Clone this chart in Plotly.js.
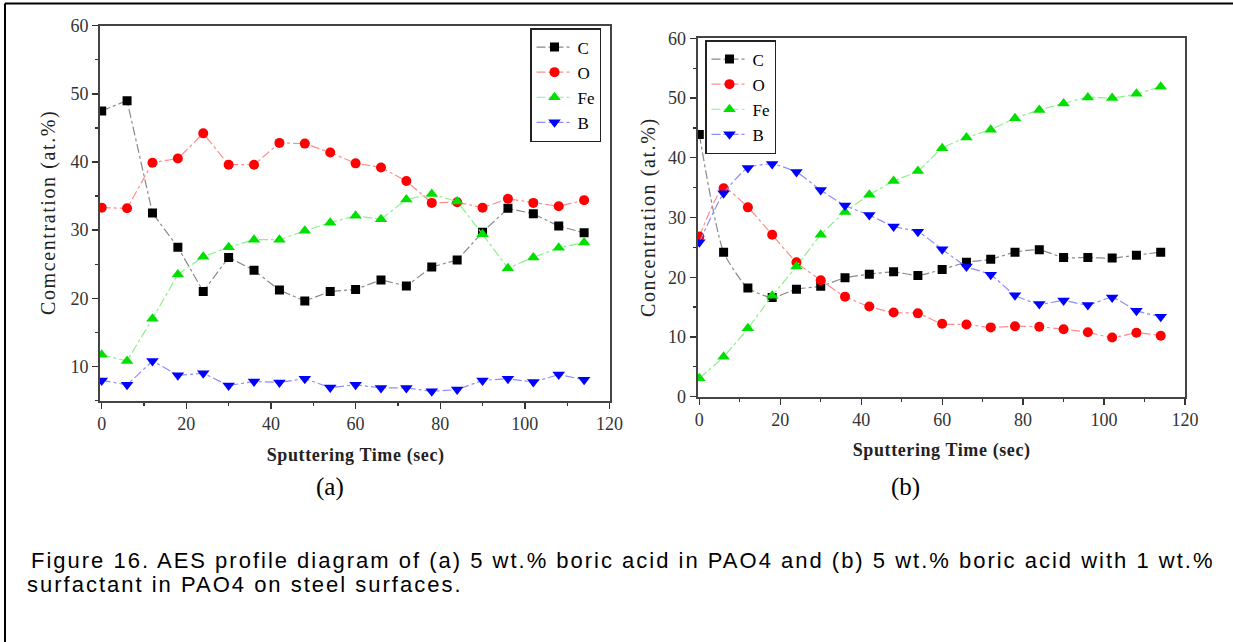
<!DOCTYPE html>
<html>
<head>
<meta charset="utf-8">
<script src="https://cdn.plot.ly/plotly-3.0.1.min.js"></script>
<style>
html,body{margin:0;padding:0;background:#fff;}
#chart{width:1233px;height:642px;}
g.annotation[data-index="0"] text, g.annotation[data-index="1"] text{letter-spacing:0.6px;}
g.annotation[data-index="2"] text, g.annotation[data-index="3"] text{letter-spacing:1.6px;}
g.annotation[data-index="6"] text, g.annotation[data-index="7"] text{letter-spacing:2px;}
</style>
</head>
<body>
<div id="chart"></div>
<script>
// Sputtering time (sec)
const timeA = [0,6,12,18,24,30,36,42,48,54,60,66,72,78,84,90,96,102,108,114];
const timeB = [0,6,12,18,24,30,36,42,48,54,60,66,72,78,84,90,96,102,108,114];

// (a) 5 wt.% boric acid in PAO4
const cA  = [47.5,49.0,32.5,27.5,21.0,26.0,24.1,21.2,19.6,21.0,21.3,22.7,21.8,24.6,25.6,29.7,33.2,32.4,30.6,29.6];
const oA  = [33.3,33.2,39.9,40.5,44.2,39.6,39.6,42.8,42.7,41.4,39.8,39.2,37.2,34.0,34.1,33.3,34.6,34.0,33.5,34.4];
const feA = [11.7,10.8,17.0,23.5,26.1,27.5,28.6,28.6,29.9,31.1,32.1,31.6,34.5,35.3,34.2,29.4,24.4,26.0,27.4,28.2];
const bA  = [7.95,7.3,10.8,8.7,9.0,7.2,7.8,7.65,8.2,6.9,7.3,6.85,6.85,6.35,6.6,7.95,8.2,7.7,8.8,8.05];

// (b) 5 wt.% boric acid with 1 wt.% surfactant in PAO4
const cB  = [43.9,24.2,18.2,16.6,18.0,18.5,19.9,20.5,20.9,20.3,21.3,22.5,23.0,24.2,24.6,23.3,23.3,23.2,23.7,24.2];
const oB  = [26.8,34.9,31.7,27.1,22.5,19.5,16.75,15.1,14.1,13.95,12.2,12.1,11.6,11.8,11.7,11.3,10.8,9.9,10.7,10.2];
const feB = [3.1,6.7,11.45,16.9,21.8,27.1,30.9,33.8,36.1,37.8,41.6,43.4,44.7,46.6,48.0,49.1,50.1,50.0,50.7,51.9];
const bB  = [25.85,34.05,38.3,38.95,37.6,34.6,32.0,30.4,28.5,27.6,24.7,21.8,20.4,17.0,15.5,16.1,15.35,16.6,14.4,13.4];

const seriesNames = ['C','O','Fe','B'];
const xTickVals = [0,20,40,60,80,100,120];
const yTickValsA = [10,20,30,40,50,60];
const yTickValsB = [0,10,20,30,40,50,60];

const serif = 'Liberation Serif, Times New Roman, serif';
const styles = [
  {mc:'#000000', lc:'#8a8a8a', sym:'square', size:9},
  {mc:'#ff0000', lc:'#ff8c8c', sym:'circle', size:10},
  {mc:'#00e000', lc:'#8cf08c', sym:'triangle-up', size:11},
  {mc:'#0000ff', lc:'#8c8cff', sym:'triangle-down', size:11}
];

function mk(x, y, i, xa, ya, leg, shape){
  const s = styles[i];
  return {
    x:x, y:y, name:seriesNames[i], type:'scatter', mode:'lines+markers',
    xaxis:xa, yaxis:ya, legend:leg,
    line:{color:s.lc, width:1.2, dash:'dashdot', shape:shape, smoothing:0.6},
    marker:{color:s.mc, symbol:s.sym, size:s.size, line:{width:0}}
  };
}

const data = [
  mk(timeA,cA,0,'x','y','legend','linear'),
  mk(timeA,oA,1,'x','y','legend','linear'),
  mk(timeA,feA,2,'x','y','legend','linear'),
  mk(timeA,bA,3,'x','y','legend','linear'),
  mk(timeB,cB,0,'x2','y2','legend2','spline'),
  mk(timeB,oB,1,'x2','y2','legend2','spline'),
  mk(timeB,feB,2,'x2','y2','legend2','spline'),
  mk(timeB,bB,3,'x2','y2','legend2','spline')
];

const W = 1233, H = 642;
function axisX(domain){
  return {
    domain:domain, range:[-0.4,120], tickvals:xTickVals, ticks:'outside', ticklen:6, tickwidth:1.3,
    tickcolor:'#333', showline:true, linecolor:'#444', linewidth:2, mirror:true, showgrid:false,
    zeroline:false, tickfont:{family:serif, size:18, color:'#333'},
    minor:{ticks:'outside', dtick:10, tick0:0, ticklen:3, tickcolor:'#333', showgrid:false}
  };
}
function axisY(domain, range, vals, anchor){
  return {
    domain:domain, range:range, tickvals:vals, ticks:'outside', ticklen:6, tickwidth:1.3,
    tickcolor:'#333', showline:true, linecolor:'#444', linewidth:2, mirror:true, showgrid:false,
    zeroline:false, anchor:anchor, tickfont:{family:serif, size:18, color:'#333'},
    minor:{ticks:'outside', dtick:5, tick0:0, ticklen:3, tickcolor:'#333', showgrid:false}
  };
}

const legFont = {family:serif, size:17, color:'#000'};
const capFont = {family:'Liberation Sans, Arial, sans-serif', size:22, color:'#000'};
const layout = {
  width:W, height:H, margin:{l:0,r:0,t:0,b:0},
  paper_bgcolor:'#fff', plot_bgcolor:'#fff', showlegend:true,
  xaxis: Object.assign(axisX([100/W, 609.5/W]), {anchor:'y'}),
  yaxis: axisY([1-400.5/H, 1-25.7/H], [5,60], yTickValsA, 'x'),
  xaxis2: Object.assign(axisX([697.7/W, 1185/W]), {anchor:'y2'}),
  yaxis2: axisY([1-396.7/H, 1-38.3/H], [0,60], yTickValsB, 'x2'),
  legend:{x:530/W, y:1-28/H, xanchor:'left', yanchor:'top', bgcolor:'#fff',
    bordercolor:'#222', borderwidth:1.5, font:legFont, tracegroupgap:0, itemwidth:36},
  legend2:{x:705/W, y:1-40/H, xanchor:'left', yanchor:'top', bgcolor:'#fff',
    bordercolor:'#222', borderwidth:1.5, font:legFont, tracegroupgap:0, itemwidth:36},
  annotations:[
    {xref:'paper', yref:'paper', x:355/W, y:1-455/H, text:'<b>Sputtering Time (sec)</b>', showarrow:false,
     font:{family:serif, size:18, color:'#222'}, xanchor:'center', yanchor:'middle'},
    {xref:'paper', yref:'paper', x:941/W, y:1-450/H, text:'<b>Sputtering Time (sec)</b>', showarrow:false,
     font:{family:serif, size:18, color:'#222'}, xanchor:'center', yanchor:'middle'},
    {xref:'paper', yref:'paper', x:48/W, y:1-213/H, text:'Comcentration (at.%)', textangle:-90, showarrow:false,
     font:{family:serif, size:20, color:'#222'}, xanchor:'center', yanchor:'middle'},
    {xref:'paper', yref:'paper', x:648/W, y:1-217/H, text:'Concentration (at.%)', textangle:-90, showarrow:false,
     font:{family:serif, size:20, color:'#222'}, xanchor:'center', yanchor:'middle'},
    {xref:'paper', yref:'paper', x:330/W, y:1-487/H, text:'(a)', showarrow:false,
     font:{family:serif, size:25, color:'#000'}, xanchor:'center', yanchor:'middle'},
    {xref:'paper', yref:'paper', x:905/W, y:1-487/H, text:'(b)', showarrow:false,
     font:{family:serif, size:25, color:'#000'}, xanchor:'center', yanchor:'middle'},
    {xref:'paper', yref:'paper', x:622/W, y:1-560/H, text:'Figure 16. AES profile diagram of (a) 5 wt.% boric acid in PAO4 and (b) 5 wt.% boric acid with 1 wt.%', showarrow:false,
     font:capFont, xanchor:'center', yanchor:'middle'},
    {xref:'paper', yref:'paper', x:245/W, y:1-584/H, text:'surfactant in PAO4 on steel surfaces.', showarrow:false,
     font:capFont, xanchor:'center', yanchor:'middle'}
  ],
  shapes:[
    {type:'line', xref:'paper', yref:'paper', x0:5/W, x1:5/W, y0:0, y1:1-3.5/H, line:{color:'#000', width:2}},
    {type:'line', xref:'paper', yref:'paper', x0:5/W, x1:1, y0:1-3.5/H, y1:1-3.5/H, line:{color:'#000', width:2}}
  ]
};

Plotly.newPlot('chart', data, layout, {staticPlot:true, displayModeBar:false});
</script>
</body>
</html>
